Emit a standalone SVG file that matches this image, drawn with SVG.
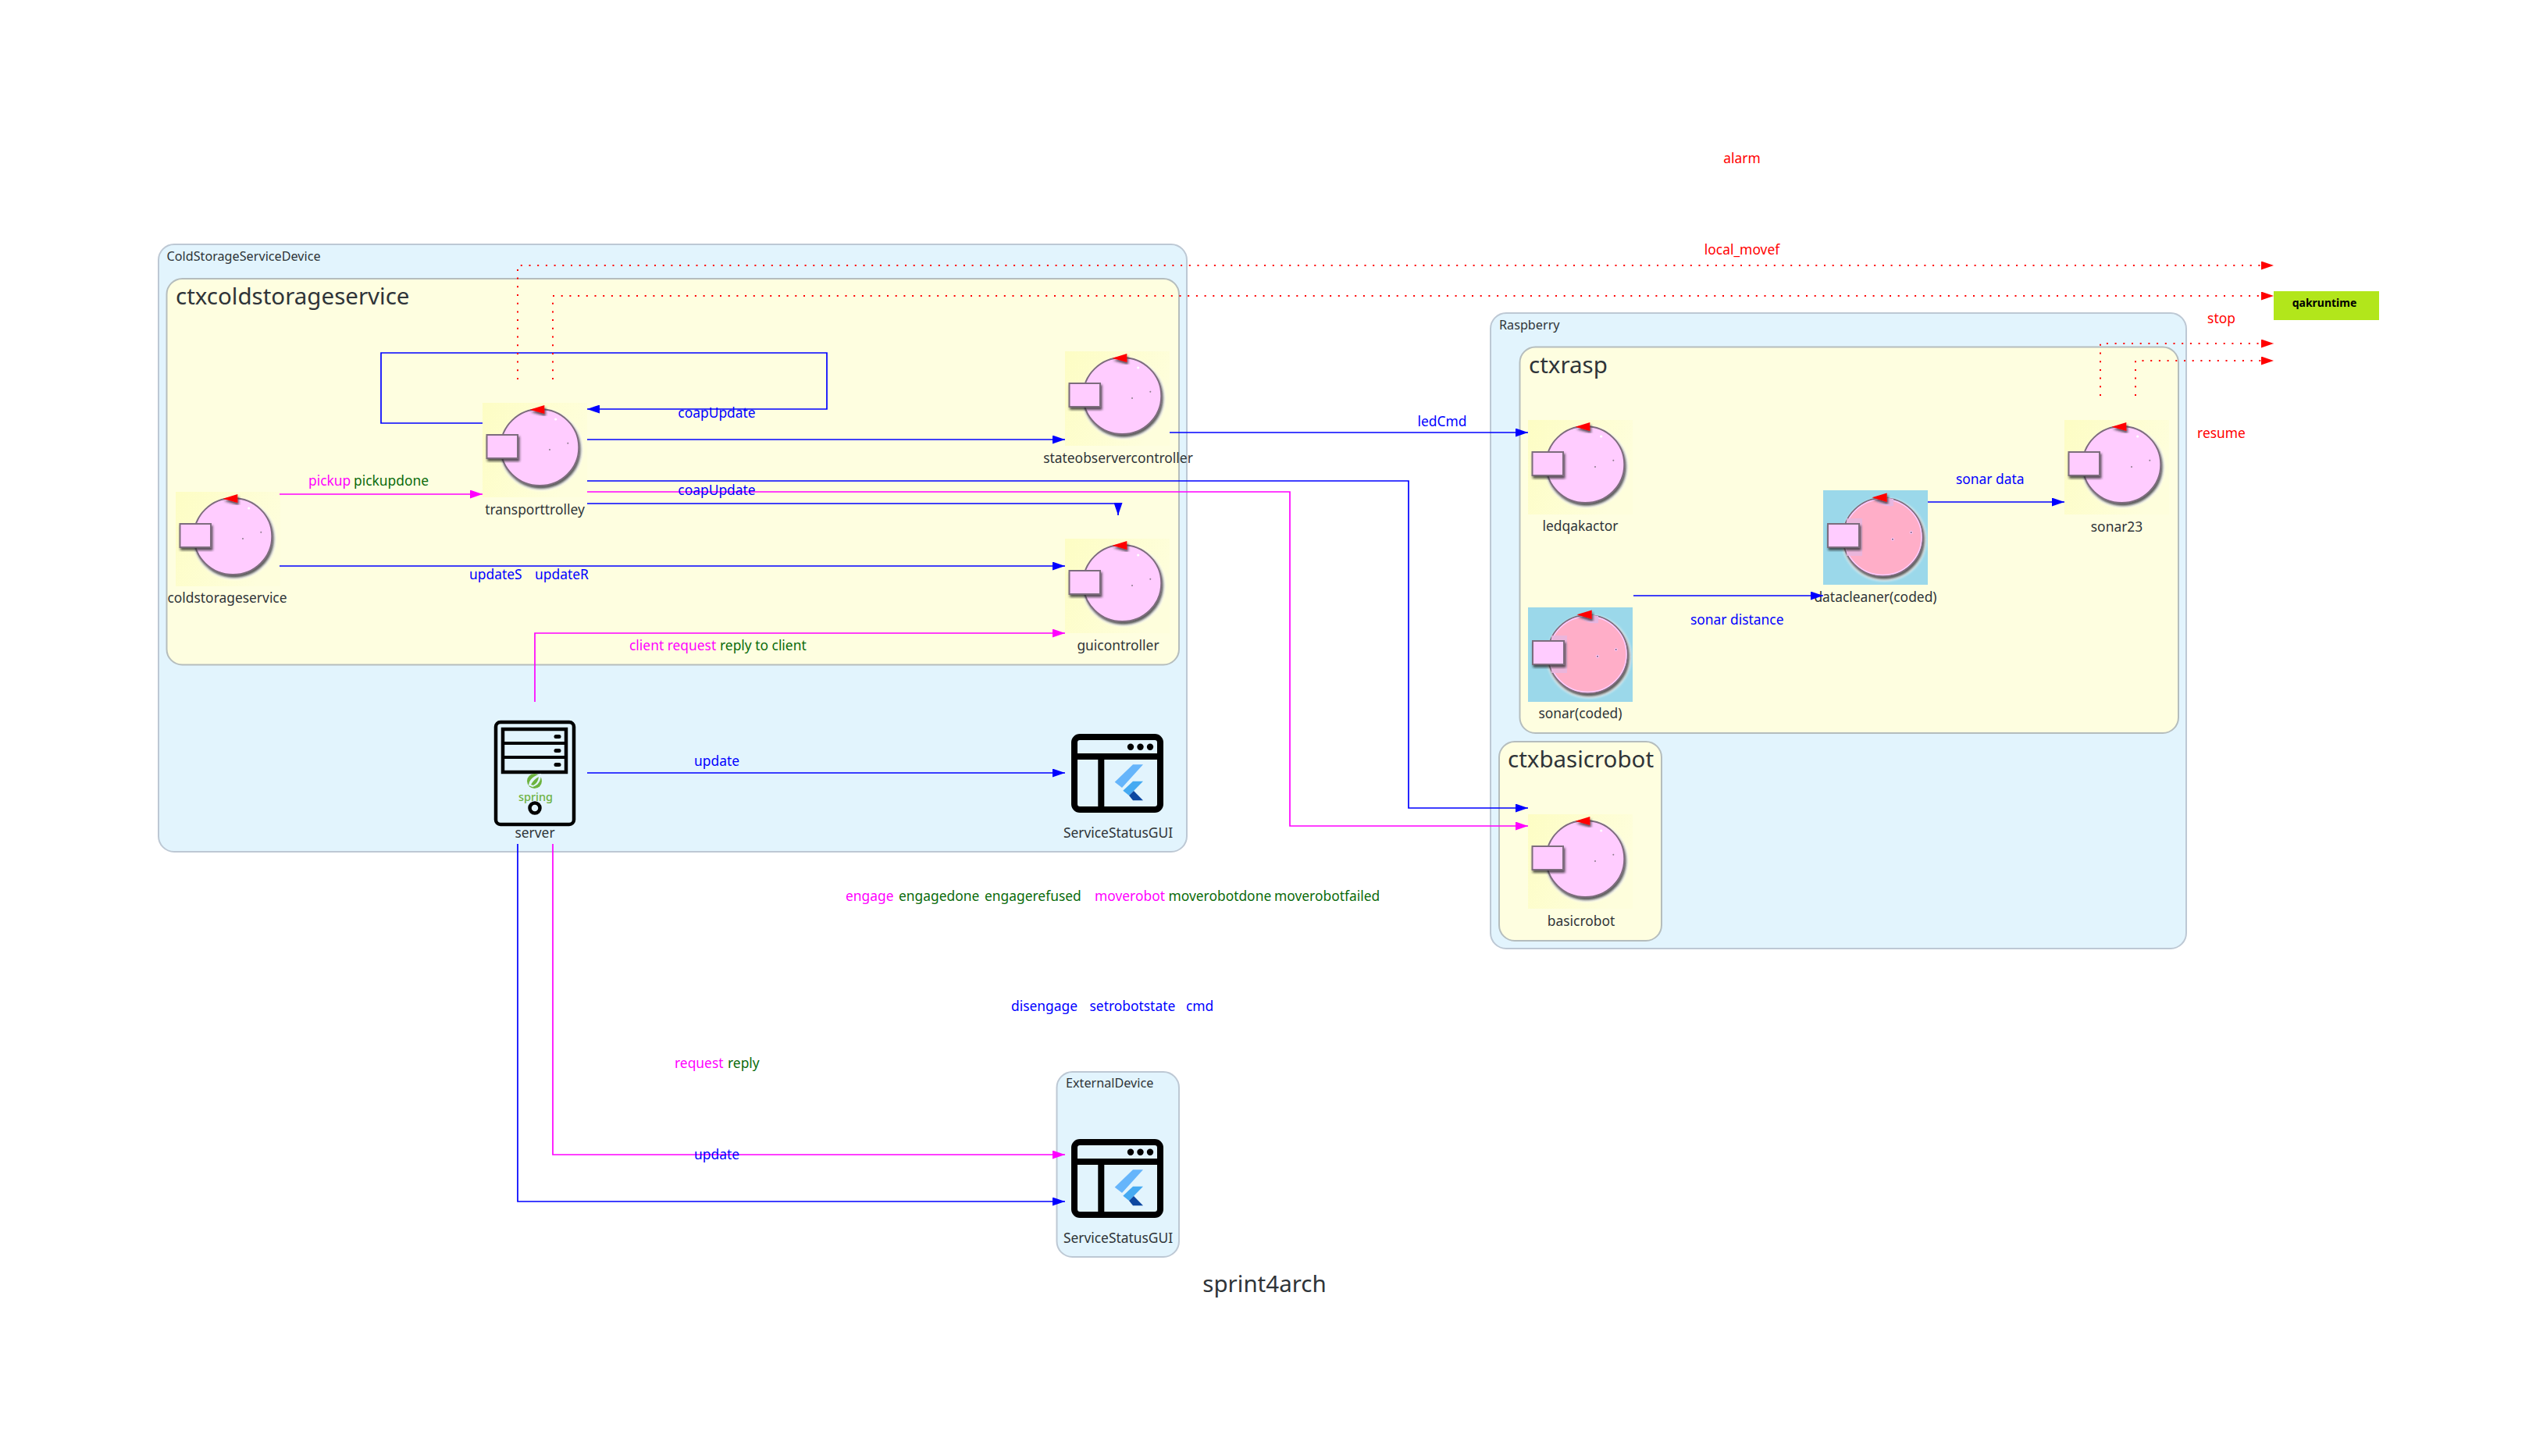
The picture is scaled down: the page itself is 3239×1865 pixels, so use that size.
<svg xmlns="http://www.w3.org/2000/svg" xmlns:xlink="http://www.w3.org/1999/xlink" width="3239" height="1865" viewBox="0 0 3239 1865">
<style>
text{font-family:"Noto Sans","DejaVu Sans",sans-serif;fill:#2f3438}
.nl{font-size:17.4px;text-anchor:middle}
.cl{font-size:29.5px}
.dl{font-size:16.2px}
.ml{font-size:17.4px}
.b{fill:#0000ff}.m{fill:#ff00ff}.g{fill:#0a6b0a}.r{fill:#ff0000}
.mid{text-anchor:middle}
.outer{fill:#e2f4fd;stroke:#bdc8d4;stroke-width:2}
.inner{fill:#fefee0;stroke:#b5bdbd;stroke-width:2}
.ln{fill:none;stroke-width:1.7}
.bl{stroke:#0000ff;marker-end:url(#ab)}
.mg{stroke:#ff00ff;marker-end:url(#am)}
.rd{stroke:#ff0000;stroke-dasharray:2 8.7;stroke-width:2;marker-end:url(#ar)}
.ic{fill:none;stroke:#000;stroke-width:8;stroke-linejoin:round}
</style>
<defs>
<marker id="ab" markerUnits="userSpaceOnUse" markerWidth="16" markerHeight="11" refX="16" refY="5.5" orient="auto"><path d="M0 0L16 5.500L0 11z" fill="#0000ff"/></marker>
<marker id="am" markerUnits="userSpaceOnUse" markerWidth="16" markerHeight="11" refX="16" refY="5.5" orient="auto"><path d="M0 0L16 5.500L0 11z" fill="#ff00ff"/></marker>
<marker id="ar" markerUnits="userSpaceOnUse" markerWidth="16" markerHeight="11" refX="16" refY="5.5" orient="auto"><path d="M0 0L16 5.500L0 11z" fill="#ff0000"/></marker>
<linearGradient id="bgy" x1="0" y1="0" x2="1" y2="0.4"><stop offset="0" stop-color="#fdfdc4"/><stop offset="1" stop-color="#fefedc"/></linearGradient>
<filter id="sh" x="-20%" y="-20%" width="140%" height="140%"><feDropShadow dx="1.5" dy="3" stdDeviation="1.6" flood-color="#222" flood-opacity="0.75"/></filter>
<filter id="hl" x="-20%" y="-20%" width="140%" height="140%"><feGaussianBlur stdDeviation="1.5"/></filter>
<g id="actor">
<rect width="134" height="121" fill="url(#bgy)"/>
<ellipse cx="75" cy="60" rx="53" ry="52" fill="#fff" filter="url(#hl)"/>
<ellipse cx="73.300" cy="57" rx="50" ry="49" fill="#ffccff" stroke="#7d6c7d" stroke-width="2" filter="url(#sh)"/>
<path d="M79.300 3V14L60.500 8.700z" fill="#ff0000" filter="url(#sh)"/>
<rect x="5.500" y="41" width="39.500" height="30" fill="#ffccff" stroke="#7d6c7d" stroke-width="2" filter="url(#sh)"/>
<circle cx="86" cy="60" r="1" fill="#8a7a8a"/><circle cx="109.300" cy="51.700" r="1" fill="#8a7a8a"/><circle cx="93.700" cy="21" r="1.600" fill="#fff"/>
</g>
<g id="coded">
<rect width="134" height="121" fill="#9bd8ea"/>
<ellipse cx="78" cy="63" rx="54" ry="53" fill="#fff" filter="url(#hl)"/>
<ellipse cx="76.500" cy="60" rx="51" ry="50" fill="#ffaec8" stroke="#7d6c7d" stroke-width="2" filter="url(#sh)"/>
<ellipse cx="76.500" cy="60" rx="49.500" ry="48.500" fill="none" stroke="#ffccff" stroke-width="1.500"/>
<path d="M40 36H50V84H30V36z" fill="#e6b6e0" opacity="0.8"/>
<path d="M65 12Q76 8 90 11V20Q76 22 65 12z" fill="#e6b6e0"/>
<path d="M81.700 3.500V15L62.500 9.300z" fill="#ff0000" filter="url(#sh)"/>
<rect x="6" y="43" width="40" height="30" fill="#ffccff" stroke="#7d6c7d" stroke-width="2" filter="url(#sh)"/>
<circle cx="89" cy="62.700" r="2" fill="#ffccff"/><circle cx="112.700" cy="54" r="2" fill="#ffccff"/><circle cx="89" cy="62.700" r="1" fill="#75607a"/><circle cx="112.700" cy="54" r="1" fill="#75607a"/>
</g>
<g id="gui">
<rect x="4" y="4" width="110" height="93" rx="7" class="ic"/>
<path d="M4 29H114M38.300 29V97" class="ic"/>
<circle cx="76" cy="16.700" r="4.200"/><circle cx="88.500" cy="16.700" r="4.200"/><circle cx="101" cy="16.700" r="4.200"/>
<path d="M79 39.300H92L65 69L55.700 61.700z" fill="#66b5fb"/>
<path d="M79 60.700H92L80 73L74 79L66.300 72.700z" fill="#45aaf2"/>
<path d="M74 79L80 73L92 85.300H79z" fill="#0d47a1"/>
</g>
</defs>
<rect width="3239" height="1865" fill="#fff"/>
<g id="clusters">
<g id="ColdStorageServiceDevice"><rect class="outer" x="203" y="313" width="1317" height="778" rx="20"/><text class="dl" x="213.500" y="334">ColdStorageServiceDevice</text></g>
<g id="ctxcoldstorageservice"><rect class="inner" x="213.500" y="357" width="1296.500" height="494.500" rx="20"/><text class="cl" x="225" y="390">ctxcoldstorageservice</text></g>
<g id="Raspberry"><rect class="outer" x="1909" y="401" width="891" height="814" rx="20"/><text class="dl" x="1920" y="422">Raspberry</text></g>
<g id="ctxrasp"><rect class="inner" x="1946.500" y="444.500" width="843.500" height="494.500" rx="20"/><text class="cl" x="1950" y="478" dx="8">ctxrasp</text></g>
<g id="ctxbasicrobot"><rect class="inner" x="1920" y="950" width="208" height="255" rx="20"/><text class="cl" x="1931" y="983">ctxbasicrobot</text></g>
<g id="ExternalDevice"><rect class="outer" x="1353.500" y="1373" width="156.500" height="237" rx="20"/><text class="dl" x="1365" y="1393">ExternalDevice</text></g>
</g>
<g id="coldstorageservice"><use xlink:href="#actor" href="#actor" x="225" y="630"/><text class="nl" x="291" y="772">coldstorageservice</text></g>
<g id="transporttrolley"><use xlink:href="#actor" href="#actor" x="618" y="516"/><text class="nl" x="685" y="659">transporttrolley</text></g>
<g id="stateobservercontroller"><use xlink:href="#actor" href="#actor" x="1364" y="450"/><text class="nl" x="1432" y="593">stateobservercontroller</text></g>
<g id="guicontroller"><use xlink:href="#actor" href="#actor" x="1364" y="690"/><text class="nl" x="1432" y="833">guicontroller</text></g>
<g id="ledqakactor"><use xlink:href="#actor" href="#actor" x="1957" y="538"/><text class="nl" x="2024" y="680">ledqakactor</text></g>
<g id="sonar23"><use xlink:href="#actor" href="#actor" x="2644" y="538"/><text class="nl" x="2711" y="681">sonar23</text></g>
<g id="basicrobot"><use xlink:href="#actor" href="#actor" x="1957" y="1043"/><text class="nl" x="2025" y="1186">basicrobot</text></g>
<g id="sonarcoded"><use xlink:href="#coded" href="#coded" x="1957" y="778"/><text class="nl" x="2024" y="920">sonar(coded)</text></g>
<g id="datacleanercoded"><use xlink:href="#coded" href="#coded" x="2335" y="628"/><text class="nl" x="2402" y="771">datacleaner(coded)</text></g>
<g id="server">
<rect x="635" y="925" width="100" height="131" rx="6" fill="none" stroke="#000" stroke-width="4.500"/>
<rect x="644" y="934" width="81" height="55" fill="none" stroke="#000" stroke-width="4.500"/>
<path d="M644 952H725M644 970H725" stroke="#000" stroke-width="4"/>
<rect x="709.500" y="941" width="9" height="5" rx="2.500"/><rect x="709.500" y="959" width="9" height="5" rx="2.500"/><rect x="709.500" y="977" width="9" height="5" rx="2.500"/>
<circle cx="684.500" cy="1000.500" r="9.500" fill="#6db33f"/>
<path d="M677 1006Q678 995 693 991Q693 1005 682 1008z" fill="#e2f4fd"/>
<path d="M680 1005Q684 998 690 995Q689 1003 683 1006z" fill="#6db33f"/>
<text x="686" y="1025.500" font-size="14.500" font-weight="500" text-anchor="middle" style="fill:#6db33f">spring</text>
<circle cx="685" cy="1035" r="6.500" fill="none" stroke="#000" stroke-width="4.500"/>
<text class="nl" x="685" y="1073">server</text>
</g>
<g id="ServiceStatusGUI"><use xlink:href="#gui" href="#gui" x="1372" y="940"/><text class="nl" x="1432" y="1073">ServiceStatusGUI</text></g>
<g id="ServiceStatusGUI2"><use xlink:href="#gui" href="#gui" x="1372" y="1459"/><text class="nl" x="1432" y="1592">ServiceStatusGUI</text></g>
<g id="qakruntime"><rect x="2912" y="373" width="135" height="37" fill="#b2e61b"/><text x="2977" y="393" font-size="14" font-weight="700" text-anchor="middle" style="fill:#000">qakruntime</text></g>
<g id="connectors">
<path class="ln mg" d="M358 633H618"/>
<path class="ln bl" d="M358 725H1364"/>
<path class="ln bl" d="M618 542H488V452H1059V524H752"/>
<path class="ln bl" d="M752 563H1364"/>
<path class="ln bl" d="M752 616H1804V1035H1957"/>
<path class="ln mg" d="M752 630H1652V1058H1957"/>
<path class="ln bl" d="M752 645H1432V660"/>
<path class="ln mg" d="M685 899V811H1364"/>
<path class="ln bl" d="M752 990H1364"/>
<path class="ln mg" d="M708 1081V1479H1364"/>
<path class="ln bl" d="M663 1081V1539H1364"/>
<path class="ln bl" d="M1498 554H1957"/>
<path class="ln bl" d="M2092 763H2335"/>
<path class="ln bl" d="M2469 643H2644"/>
<path class="ln rd" d="M663 486V340H2912"/>
<path class="ln rd" d="M708 486V379H2912"/>
<path class="ln rd" d="M2690 507V440H2912"/>
<path class="ln rd" d="M2735 507V462H2912"/>
</g>
<g id="labels">
<text class="ml b mid" x="918" y="535">coapUpdate</text>
<text class="ml b mid" x="918" y="634">coapUpdate</text>
<text class="ml"><tspan class="m" x="395" y="622">pickup</tspan><tspan class="g" x="453" y="622">pickupdone</tspan></text>
<text class="ml"><tspan class="b" x="601" y="742">updateS</tspan><tspan class="b" x="685" y="742">updateR</tspan></text>
<text class="ml"><tspan class="m" x="806" y="833">client request</tspan><tspan class="g" x="922" y="833">reply to client</tspan></text>
<text class="ml b mid" x="918" y="981">update</text>
<text class="ml b mid" x="918" y="1485">update</text>
<text class="ml"><tspan class="m" x="864" y="1368">request</tspan><tspan class="g" x="932" y="1368">reply</tspan></text>
<text class="ml"><tspan class="m" x="1083" y="1154">engage</tspan><tspan class="g" x="1151" y="1154">engagedone</tspan><tspan class="g" x="1261" y="1154">engagerefused</tspan><tspan class="m" x="1402" y="1154">moverobot</tspan><tspan class="g" x="1496.500" y="1154">moverobotdone</tspan><tspan class="g" x="1632" y="1154">moverobotfailed</tspan></text>
<text class="ml"><tspan class="b" x="1295" y="1295">disengage</tspan><tspan class="b" x="1395.500" y="1295">setrobotstate</tspan><tspan class="b" x="1519" y="1295">cmd</tspan></text>
<text class="ml r mid" x="2231" y="209">alarm</text>
<text class="ml r mid" x="2231" y="326">local_movef</text>
<text class="ml r mid" x="2845" y="414">stop</text>
<text class="ml r mid" x="2845" y="561">resume</text>
<text class="ml b mid" x="1847" y="546">ledCmd</text>
<text class="ml b" x="2505" y="620">sonar data</text>
<text class="ml b" x="2165" y="800">sonar distance</text>
</g>
<text id="title" x="1619.500" y="1655" font-size="29.500" text-anchor="middle">sprint4arch</text>
</svg>
